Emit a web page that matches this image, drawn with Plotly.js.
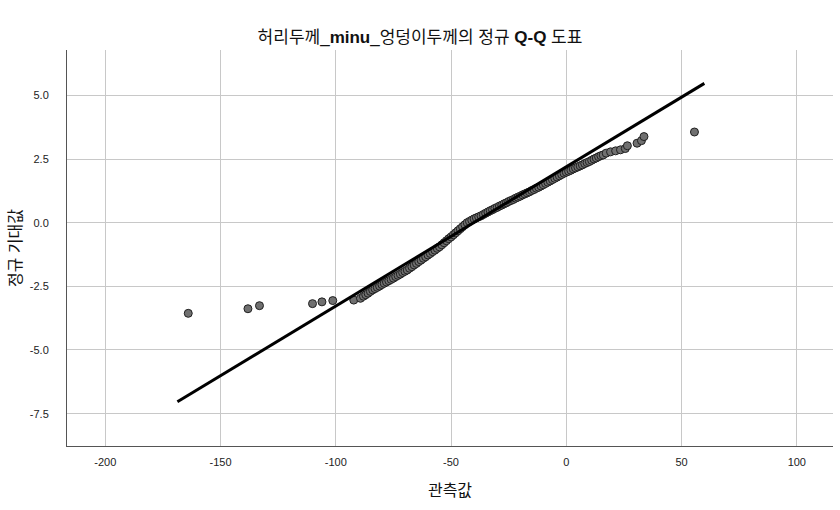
<!DOCTYPE html>
<html>
<head>
<meta charset="utf-8">
<script src="https://cdn.plot.ly/plotly-3.0.1.min.js"></script>
<style>html,body{margin:0;padding:0;background:#fff;}</style>
</head>
<body>
<div id="chart" style="width:840px;height:510px;"></div>
<script>
const observed = [
  -164.0, -138.1, -133.1, -110.1, -106.0, -101.3, -92.2, -89.3,
  -88, -87, -86, -85, -84, -83, -82, -81, -80, -79, -78, -77,
  -76, -75, -74, -73, -72, -71, -70, -69, -68, -67, -66, -65, -64, -63, -62,
  -61, -60, -59, -58, -57, -56, -55, -54, -53, -52, -51, -50,
  -49, -48, -47, -46, -45, -44, -43, -42, -41,
  -40, -39, -38, -37, -36, -35, -34, -33, -32, -31, -30, -29, -28, -27, -26,
  -25, -24, -23, -22, -21, -20, -19, -18, -17, -16, -15, -14, -13, -12,
  -11, -10, -9, -8, -7, -6, -5, -4, -3, -2, -1, 0,
  1, 2, 3, 4, 5, 6, 7, 8, 9, 10, 11, 12, 13, 14, 15,
  16.0, 17.3, 19.2, 21.4, 23.5, 25.6, 26.5, 30.7, 32.6, 33.7, 55.6
];
// Expected normal values
const expected = [
  -3.56, -3.38, -3.26, -3.18, -3.11, -3.06, -3.04, -2.97,
  -2.89, -2.83, -2.77, -2.70, -2.64, -2.59, -2.54, -2.49, -2.43, -2.38, -2.33, -2.28,
  -2.23, -2.18, -2.12, -2.07, -2.02, -1.96, -1.91, -1.86, -1.79, -1.73, -1.66, -1.60, -1.53, -1.47, -1.40,
  -1.34, -1.27, -1.21, -1.14, -1.08, -1.01, -0.95, -0.87, -0.79, -0.71, -0.63, -0.56,
  -0.48, -0.40, -0.32, -0.24, -0.16, -0.08, 0.00, 0.05, 0.10,
  0.15, 0.19, 0.23, 0.27, 0.32, 0.37, 0.42, 0.47, 0.51, 0.56, 0.60, 0.65, 0.69, 0.74, 0.78,
  0.83, 0.87, 0.91, 0.96, 1.00, 1.04, 1.09, 1.13, 1.17, 1.21, 1.26, 1.30, 1.35, 1.39,
  1.44, 1.49, 1.54, 1.59, 1.64, 1.69, 1.74, 1.79, 1.84, 1.89, 1.94, 1.98,
  2.02, 2.06, 2.11, 2.15, 2.19, 2.23, 2.27, 2.32, 2.36, 2.40, 2.45, 2.50, 2.54, 2.59, 2.63,
  2.66, 2.73, 2.78, 2.82, 2.86, 2.91, 3.02, 3.12, 3.22, 3.38, 3.56
];
// Reference line end points
const refX = [-168.7, 59.9];
const refY = [-7.03, 5.47];

const xTicks = [-200, -150, -100, -50, 0, 50, 100];
const yTicks = [-7.5, -5.0, -2.5, 0.0, 2.5, 5.0];
const yTickText = ["-7.5", "-5.0", "-2.5", "0.0", "2.5", "5.0"];

const titleText = "허리두께_<b>minu</b>_엉덩이두께의 정규 <b>Q-Q</b> 도표";
const xTitle = "관측값";
const yTitle = "정규 기대값";

const fontFam = "'Liberation Sans', Arial, 'Noto Sans CJK KR', sans-serif";

const traces = [
  {
    x: observed, y: expected, type: "scatter", mode: "markers",
    marker: {size: 8, color: "#707070", line: {width: 1, color: "#202020"}},
    hoverinfo: "skip", showlegend: false
  },
  {
    x: refX, y: refY, type: "scatter", mode: "lines",
    line: {color: "#000000", width: 3},
    hoverinfo: "skip", showlegend: false
  }
];

const layout = {
  width: 840, height: 510,
  margin: {l: 67, r: 7, t: 50, b: 64},
  paper_bgcolor: "#ffffff", plot_bgcolor: "#ffffff",
  font: {family: fontFam, color: "#222222", size: 11},
  title: {text: titleText, x: 0.5, xref: "container", xanchor: "center", y: 0.927, yanchor: "middle",
          font: {family: fontFam, size: 17, color: "#111111"}},
  xaxis: {
    range: [-216.6, 115.7], tickvals: xTicks, ticktext: xTicks.map(String),
    showgrid: true, gridcolor: "#c8c8c8", gridwidth: 1, zeroline: false,
    showline: true, linecolor: "#555555", linewidth: 1, mirror: false,
    ticks: "outside", ticklen: 6, tickcolor: "rgba(0,0,0,0)",
    tickfont: {family: "'Liberation Sans Narrow', 'Liberation Sans', Arial, sans-serif", size: 11, color: "#222"},
    title: {text: xTitle, standoff: 17, font: {family: fontFam, size: 16, color: "#111"}}
  },
  yaxis: {
    range: [-8.77, 6.78], tickvals: yTicks, ticktext: yTickText,
    showgrid: true, gridcolor: "#c8c8c8", gridwidth: 1, zeroline: false,
    showline: true, linecolor: "#555555", linewidth: 1, mirror: false,
    ticks: "outside", ticklen: 15, tickcolor: "rgba(0,0,0,0)",
    tickfont: {family: fontFam, size: 11, color: "#222"},
    title: {text: yTitle, standoff: 4, font: {family: fontFam, size: 16, color: "#111"}}
  }
};

Plotly.newPlot("chart", traces, layout, {displayModeBar: false, staticPlot: true});
</script>
</body>
</html>
